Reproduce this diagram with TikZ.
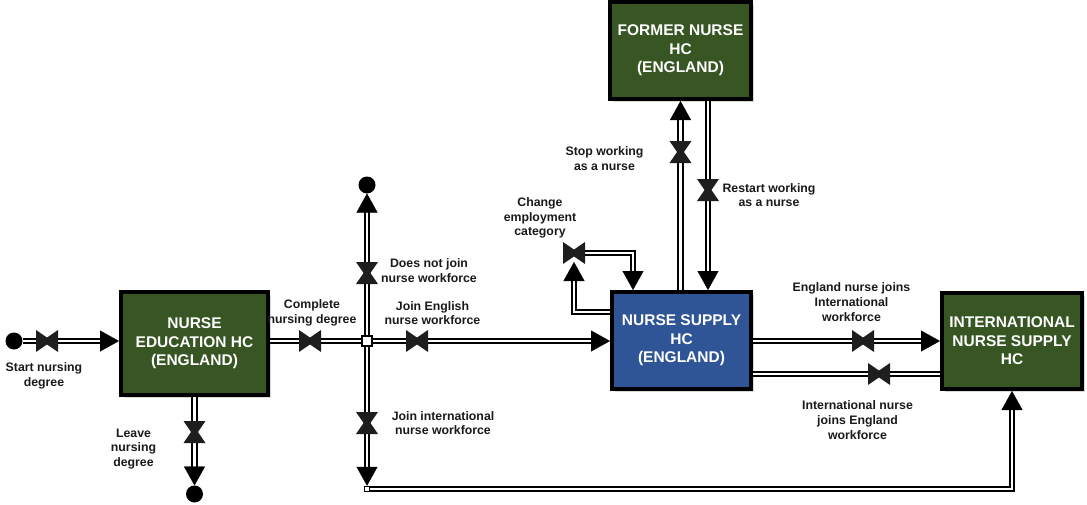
\documentclass[tikz,border=0pt]{standalone}
\usepackage{fontspec}
\setmainfont{Liberation Sans}
\usetikzlibrary{arrows.meta,shadows}
\definecolor{stockgreen}{HTML}{375623}
\definecolor{stockblue}{HTML}{2F5597}
\definecolor{valvegrey}{HTML}{1E1E1E}
\definecolor{labelgrey}{HTML}{1A1A1A}

\tikzset{
  stock/.style={draw=black, line width=4pt, inner sep=0pt, outer sep=2pt,
    text=white, align=center, font=\bfseries\fontsize{15.5}{18.5}\selectfont,
    drop shadow={shadow xshift=2.5pt, shadow yshift=-2.5pt, opacity=0.3}},
  pipe/.style={draw=black, line width=2pt, double=white, double distance=2.4pt},
  piped/.style={pipe, shorten >=17pt},
  flowtip/.style={draw=white, line width=0.4pt,
    -{Triangle[width=21pt,length=19pt,color=black]}},
  cloud/.style={circle, fill=black, minimum size=17pt, inner sep=0pt, outer sep=0pt},
  junction/.style={rectangle, draw=black, fill=white, inner sep=0pt},
  lbl/.style={font=\bfseries\fontsize{12.3}{14.7}\selectfont, align=center, text=labelgrey},
  % bow-tie valves; both triangles wound the same way so the overlap stays filled
  hvalve/.pic={\fill[valvegrey] (-11,-11) -- (-11,11) -- (5,0) -- cycle
                                (11,11) -- (11,-11) -- (-5,0) -- cycle;},
  vvalve/.pic={\fill[valvegrey] (-11,-11) -- (11,-11) -- (0,5) -- cycle
                                (11,11) -- (-11,11) -- (0,-5) -- cycle;},
}
% a flow with an arrow tip at its far end
\newcommand\flowarrow[1]{\draw[piped] #1; \draw[flowtip] #1;}

\begin{document}
\begin{tikzpicture}[x=1pt, y=-1pt]
\fill[white] (0,0) rectangle (1087,504);
\useasboundingbox (0,0) rectangle (1087,504);

% stocks
\node[stock, fill=stockgreen, minimum width=147pt, minimum height=103pt] (edu) at (194.5,343.5)
  {NURSE\\EDUCATION HC\\(ENGLAND)};
\node[stock, fill=stockblue, minimum width=139pt, minimum height=97pt] (sup) at (681.5,340.5)
  {NURSE SUPPLY\\HC\\(ENGLAND)};
\node[stock, fill=stockgreen, minimum width=141pt, minimum height=97pt] (fmr) at (680.5,50.5)
  {FORMER NURSE\\HC\\(ENGLAND)};
\node[stock, fill=stockgreen, minimum width=140pt, minimum height=96pt] (intl) at (1012,341)
  {INTERNATIONAL\\NURSE SUPPLY\\HC};

% sources and sinks
\node[cloud] (src) at (14,341) {};
\node[cloud] (sinkA) at (367,185) {};
\node[cloud] (sinkB) at (194.5,494) {};

% junctions
\node[junction, line width=2.4pt, minimum size=10pt] (jn) at (367,341) {};
\node[junction, line width=1.4pt, minimum size=5pt] (jb) at (367,489) {};

% helper points
\coordinate (rsTop) at ([xshift=27.5pt]fmr.south);
\coordinate (ceV) at (574,253);
\coordinate (ceIn) at (574,262);
\coordinate (ceR) at (633,253);
\coordinate (ceOut) at (0,312);
\coordinate (lowY) at (0,374);

% flows
\flowarrow{(src) -- (src -| edu.west)}
\draw[pipe] (jn -| edu.east) -- (jn);
\flowarrow{(jn) -- (jn -| sup.west)}
\flowarrow{(jn) -- (sinkA)}
\flowarrow{(jn) -- (jb)}
\flowarrow{(jb) -| (intl.south)}
\flowarrow{(edu.south) -- (sinkB)}
\flowarrow{(sup.north -| fmr.south) -- (fmr.south)}
\flowarrow{(rsTop) -- (rsTop |- sup.north)}
\flowarrow{(sup.west |- ceOut) -| (ceIn)}
\flowarrow{(ceV) -| (ceR |- sup.north)}
\flowarrow{(jn -| sup.east) -- (jn -| intl.west)}
\draw[pipe] (intl.west |- lowY) -- (sup.east |- lowY);

% valves
\pic at (47,341) {hvalve};
\pic at (310,341) {hvalve};
\pic at (417,341) {hvalve};
\pic at (367,273) {vvalve};
\pic at (367,423) {vvalve};
\pic at (194.5,432) {vvalve};
\pic at (680.5,152) {vvalve};
\pic at (708,190) {vvalve};
\pic at (574,253) {hvalve};
\pic at (863,341) {hvalve};
\pic at (879,374) {hvalve};

% flow labels
\node[lbl] (lStart) at (44,376) {Start nursing\\degree};
\node[lbl] (lComplete) at (312,313) {Complete\\nursing degree};
\node[lbl] (lJoinEng) at (432.5,313) {Join English\\nurse workforce};
\node[lbl] (lNotJoin) at (429,270.5) {Does not join\\nurse workforce};
\node[lbl] (lJoinIntl) at (443,423) {Join international\\nurse workforce};
\node[lbl] (lLeave) at (133.5,449) {Leave\\nursing\\degree};
\node[lbl] (lStop) at (604.5,158.5) {Stop working\\as a nurse};
\node[lbl] (lRestart) at (769,195) {Restart working\\as a nurse};
\node[lbl] (lChange) at (540,218) {Change\\employment\\category};
\node[lbl] (lEngIntl) at (851.5,302) {England nurse joins\\International\\workforce};
\node[lbl] (lIntlEng) at (857.5,420) {International nurse\\joins England\\workforce};
\end{tikzpicture}
\end{document}
